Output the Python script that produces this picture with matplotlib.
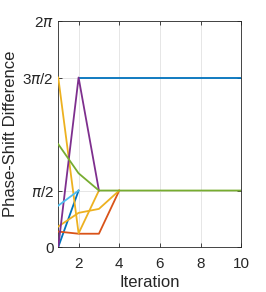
import numpy as np
import matplotlib.pyplot as plt

plt.rcParams['font.family'] = ['Liberation Sans', 'DejaVu Sans']
plt.rcParams['mathtext.fontset'] = 'dejavusans'

PI = np.pi

# one entry per run: iterations and phase-shift difference (rad)
runs_x = [
    [1, 2],
    [1, 2, 3, 4],
    [1, 2, 3],
    [1, 2, 3],
    [1, 2, 3, 4, 5, 6, 7, 8, 9, 10],
    [1, 2],
    [1, 2, 3, 4],
    [2, 3, 4, 5, 6, 7, 8, 9, 10],
]
runs_y = [
    [0.0, PI / 2],
    [0.43, 0.37, 0.37, PI / 2],
    [3 * PI / 2, 0.38, PI / 2],
    [0.0, 3 * PI / 2, PI / 2],
    [2.86, 2.05, PI / 2, PI / 2, PI / 2, PI / 2, PI / 2, PI / 2, PI / 2, PI / 2],
    [1.15, PI / 2],
    [0.57, 0.95, 1.06, PI / 2],
    [3 * PI / 2] * 9,
]
run_colors = ['#0072BD', '#D95319', '#EDB120', '#7E2F8E', '#77AC30',
              '#4DBEEE', '#EDB120', '#0072BD']
draw_order = [0, 1, 2, 6, 7, 3, 4, 5]

yticks = [0, PI / 2, 3 * PI / 2, 2 * PI]
ytick_labels = ['0', r'$\pi$/2', r'3$\pi$/2', r'2$\pi$']
xticks = [2, 4, 6, 8, 10]

fig = plt.figure(figsize=(2.66, 2.92), dpi=100)
ax = fig.add_axes([0.219, 0.154, 0.688, 0.774])

for i in draw_order:
    ax.plot(runs_x[i], runs_y[i], color=run_colors[i], lw=1.3, zorder=3)

ax.set_xlim(1, 10)
ax.set_ylim(0, 2 * PI)
ax.set_xticks(xticks)
ax.set_yticks(yticks)
ax.set_yticklabels(ytick_labels)
ax.grid(True, color='#e6e6e6', lw=0.7, zorder=0)
ax.set_axisbelow(True)
ax.tick_params(direction='in', length=3, width=0.6, colors='#262626',
               labelsize=11, top=True, right=True, pad=3)
ax.tick_params(axis='x', pad=7)
for s in ax.spines.values():
    s.set_color('#262626')
    s.set_linewidth(0.6)
ax.set_xlabel('Iteration', fontsize=12, color='#262626', labelpad=3)
ax.set_ylabel('Phase-Shift Difference', fontsize=12, color='#262626', labelpad=3)

fig.savefig('out.png', dpi=100)
